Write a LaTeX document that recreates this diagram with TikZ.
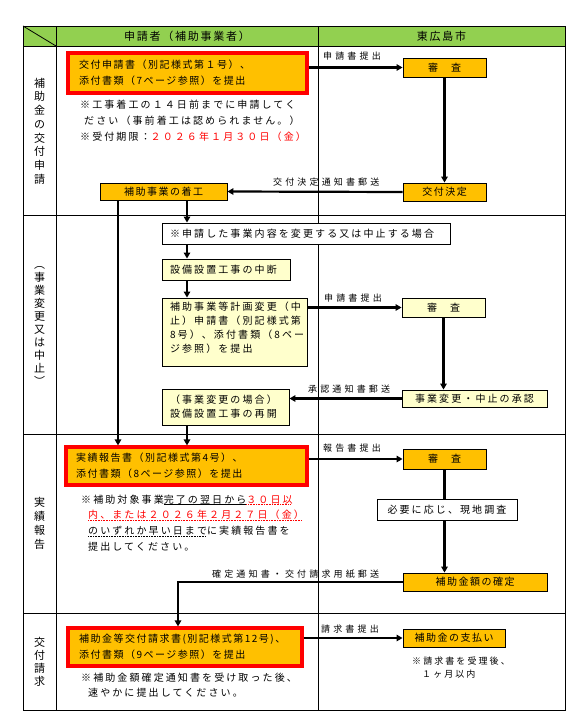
\documentclass[tikz,border=0pt]{standalone}
\usepackage{fontspec}
\usetikzlibrary{arrows.meta}
\setmainfont{Noto Sans CJK JP}
\newfontfamily\jpa[LetterSpace=15]{Noto Sans CJK JP}
\newfontfamily\jpb[LetterSpace=21]{Noto Sans CJK JP}
\newfontfamily\jpl[LetterSpace=35]{Noto Sans CJK JP}
\newfontfamily\jps[LetterSpace=23]{Noto Sans CJK JP}
\newfontfamily\jph[LetterSpace=16]{Noto Sans CJK JP}
\definecolor{hdr}{HTML}{92D050}
\definecolor{org}{HTML}{FFC000}
\definecolor{lyel}{HTML}{FFFFCC}
\newbox\myulbox
\newdimen\myuldim
\newcommand\sul[1]{\setbox\myulbox\hbox{#1}\myuldim=\wd\myulbox\leavevmode\vtop{\hbox{\box\myulbox}\nointerlineskip\kern0.6pt\hrule width\myuldim height0.6pt}}
\newcommand\dul[1]{\setbox\myulbox\hbox{#1}\myuldim=\wd\myulbox\leavevmode\vtop{\hbox{\box\myulbox}\nointerlineskip\kern0.5pt\hbox to\myuldim{\leaders\hbox to1.6pt{\vrule width0.9pt height0.8pt\hss}\hfill}}}
\tikzset{
  tbl/.style={line width=0.8pt},
  bx/.style={draw, line width=0.9pt, inner sep=0pt, align=center, font={\jpa\fontsize{10}{14}\selectfont}},
  ob/.style={bx, fill=org},
  yb/.style={bx, fill=lyel, font={\jpb\fontsize{10}{14}\selectfont}},
  wb/.style={bx, fill=white, font={\jpb\fontsize{10}{14}\selectfont}},
  rb/.style={draw=red, line width=3.2pt, fill=org, inner ysep=0pt, align=left, font={\jpa\fontsize{10}{16}\selectfont}},
  note/.style={inner sep=0pt, anchor=base west, align=left, text width=240pt},
  lab/.style={inner sep=0pt, anchor=base west, font={\jpl\fontsize{9}{12}\selectfont}},
  vlab/.style={inner sep=0pt, align=center, text width=14pt},
  hd/.style={inner sep=0pt, font={\jph\fontsize{11}{13}\selectfont}},
  arr/.style={line width=2.2pt, -{Triangle[length=6pt,width=6.5pt]}},
  ln/.style={line width=2.2pt},
}
\begin{document}
\begin{tikzpicture}[x=1pt,y=-1pt]
\useasboundingbox (0,0) rectangle (584,728);
% table
\fill[hdr] (23,26) rectangle (565,46);
\draw[tbl] (23,26) rectangle (565,710);
\draw[tbl] (23,46) -- (565,46);
\draw[tbl] (23,215) -- (565,215);
\draw[tbl] (23,434) -- (565,434);
\draw[tbl] (23,613) -- (565,613);
\draw[tbl] (56,26) -- (56,710);
\draw[tbl] (318,26) -- (318,710);
\draw[tbl] (23,26) -- (56,46);
\node[hd] (h1) at (187,36) {申請者（補助事業者）};
\node[hd] (h2) at (441.5,36) {東広島市};
% vertical labels
\node[vlab, font={\fontsize{11}{13.7}\selectfont}] (v1) at (39.5,131) {補\\助\\金\\の\\交\\付\\申\\請};
\node[vlab, font={\fontsize{11}{13}\selectfont}] (v2) at (39.5,326) {︵\\事\\業\\変\\更\\又\\は\\中\\止\\︶};
\node[vlab, font={\fontsize{11}{14}\selectfont}] (v3) at (39.5,523) {実\\績\\報\\告};
\node[vlab, font={\fontsize{11}{13}\selectfont}] (v4) at (39.5,662) {交\\付\\請\\求};
% x guides
\coordinate (xa) at (118,0);
\coordinate (xb) at (187,0);
\coordinate (xc) at (178,0);
% section 1
\node[rb, text width=217pt, inner xsep=11pt, minimum height=40pt] (r1) at (187.5,73) {交付申請書（別記様式第１号）、\\添付書類（7ページ参照）を提出};
\node[note, font={\jpb\fontsize{10}{16}\selectfont}] (n1) at (80,108) {※工事着工の１４日前までに申請してく\\\hspace*{4pt}ださい（事前着工は認められません。）\\※受付期限：{\color{red}２０２６年１月３０日（金）}};
\node[ob, minimum width=83pt, minimum height=19pt] (s1) at (444.5,67.5) {審\hspace{1.3em}査};
\node[ob, minimum width=83pt, minimum height=18pt] (k1) at (444.5,192) {交付決定};
\node[ob, minimum width=127pt, minimum height=17pt] (c1) at (163.5,191.5) {補助事業の着工};
\draw[arr] (r1.east |- s1.west) -- (s1.west);
\node[lab] (l1) at (323,59.5) {申請書提出};
\draw[arr] (s1.south) -- (k1.north);
\draw[arr] (k1.west) -- (c1.east);
\node[lab] (l2) at (273,185.5) {交付決定通知書郵送};
% section 2
\node[wb, minimum width=288pt, minimum height=21pt, text width=272pt, inner xsep=8pt, align=left] (hn) at (306,233.5) {※申請した事業内容を変更する又は中止する場合};
\node[yb, minimum height=21pt, text width=112pt, inner xsep=8pt, align=left] (cd) at (226,269.5) {設備設置工事の中断};
\node[yb, minimum height=68pt, text width=129pt, inner xsep=8pt, align=left] (kk) at (234.5,332) {補助事業等計画変更（中\\止）申請書（別記様式第\\8号）、添付書類（8ペー\\ジ参照）を提出\\[-4pt]\mbox{}};
\node[yb, minimum width=83pt, minimum height=19pt] (s2) at (443.5,307.5) {審\hspace{1.3em}査};
\node[yb, minimum width=145pt, minimum height=17pt] (sn) at (474.5,398.5) {事業変更・中止の承認};
\node[yb, minimum height=36pt, text width=111pt, inner xsep=8pt, align=left] (sk) at (225.5,407) {（事業変更の場合）\\設備設置工事の再開};
\draw[arr] (c1.south -| xb) -- (hn.north -| xb);
\draw[arr] (hn.south -| xb) -- (cd.north -| xb);
\draw[arr] (cd.south -| xb) -- (kk.north -| xb);
\draw[arr] (kk.east |- s2.west) -- (s2.west);
\node[lab] (l3) at (324,301) {申請書提出};
\draw[arr] (s2.south) -- (sn.north -| s2.south);
\draw[arr] (sn.west) -- (sk.east |- sn.west);
\node[lab] (l4) at (308,392) {承認通知書郵送};
% section 3
\node[rb, text width=221pt, inner xsep=10pt, minimum height=38pt] (j1) at (186.5,466) {実績報告書（別記様式第4号）、\\添付書類（8ページ参照）を提出};
\draw[arr] (c1.south -| xa) -- (j1.north -| xa);
\draw[arr] (sk.south -| xb) -- (j1.north -| xb);
\node[note, font={\jpb\fontsize{10}{15.7}\selectfont}] (n3) at (81,503) {※補助対象事業\sul{完了の翌日から}{\color{red}\dul{３０日以}}\\\hspace*{7pt}{\color{red}\dul{内、または２０２６年２月２７日（金）}}\\\hspace*{7pt}\dul{のいずれか早い日まで}に実績報告書を\\\hspace*{7pt}提出してください。};
\node[ob, minimum width=83pt, minimum height=20pt] (s3) at (444.5,459) {審\hspace{1.3em}査};
\draw[arr] (j1.east |- s3.west) -- (s3.west);
\node[lab] (l5) at (323,451.5) {報告書提出};
\node[wb, minimum width=140pt, minimum height=21pt] (gc) at (447,509.5) {必要に応じ、現地調査};
\node[ob, minimum width=144pt, minimum height=18pt] (kt) at (475,582) {補助金額の確定};
\draw[ln] (s3.south) -- (gc.north -| s3.south);
\draw[arr] (gc.south -| s3.south) -- (kt.north -| s3.south);
\node[lab] (l6) at (212,577.5) {確定通知書・交付請求用紙郵送};
% section 4
\node[rb, text width=212pt, inner xsep=11pt, minimum height=38pt] (sq) at (185,647) {補助金等交付請求書(別記様式第12号)、\\添付書類（9ページ参照）を提出};
\draw[arr] (kt.west) -| (sq.north -| xc);
\node[note, font={\jpb\fontsize{10}{15}\selectfont}] (n4) at (81,681) {※補助金額確定通知書を受け取った後、\\\hspace*{7pt}速やかに提出してください。};
\node[ob, minimum width=102pt, minimum height=18pt] (sp) at (454,638) {補助金の支払い};
\draw[arr] (sq.east |- sp.west) -- (sp.west);
\node[lab] (l7) at (321,632) {請求書提出};
\node[note, text width=120pt, font={\jps\fontsize{9}{13}\selectfont}] (n5) at (412,664) {※請求書を受理後、\\\hspace*{10pt}１ヶ月以内};
\end{tikzpicture}
\end{document}
